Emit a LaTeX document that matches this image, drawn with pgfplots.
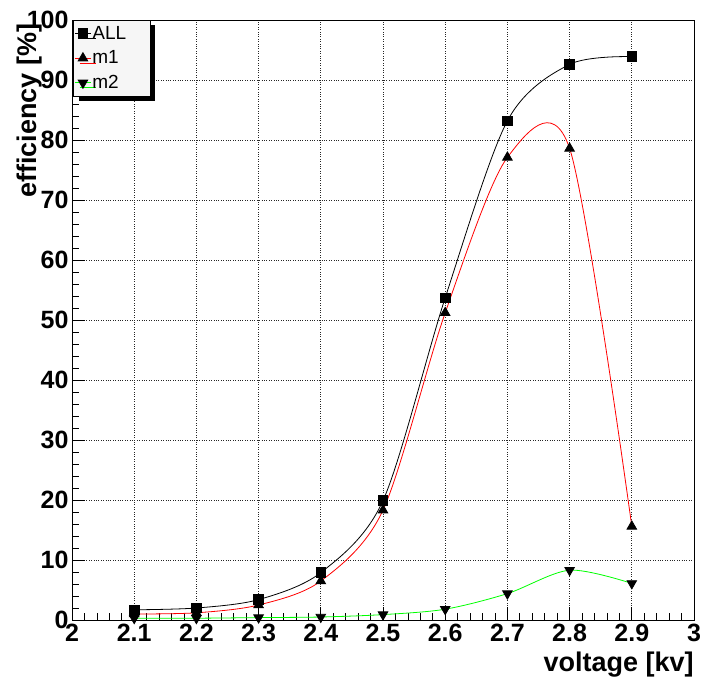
\documentclass[border=0pt]{standalone}
\usepackage{fontspec}
\setmainfont{Liberation Sans}
\usepackage{pgfplots}
\pgfplotsset{compat=1.18}
\usetikzlibrary{shadows}

\begin{document}
\begin{tikzpicture}
\useasboundingbox (-72pt,-66pt) rectangle (634pt,620pt);
\begin{axis}[
    at={(0pt,0pt)}, anchor=south west,
    scale only axis,
    width=622pt, height=600pt,
    xmin=2, xmax=3, ymin=0, ymax=100,
    xtick={2,2.1,2.2,2.3,2.4,2.5,2.6,2.7,2.8,2.9,3},
    ytick={0,10,20,30,40,50,60,70,80,90,100},
    minor x tick num=4,
    minor y tick num=4,
    tick pos=left,
    tick align=inside,
    major tick length=13pt,
    minor tick length=7pt,
    axis line style={line width=0.8pt},
    every tick/.style={black, line width=0.7pt},
    grid=major,
    grid style={dotted, black!85, line width=0.8pt},
    /pgf/number format/assume math mode=true,
    tick label style={font=\fontsize{25}{25}\selectfont\bfseries},
    xticklabel style={yshift=-1pt},
    yticklabel style={xshift=0pt},
    every axis x label/.style={at={(axis description cs:1.005,-0.048)}, anchor=north east},
    every axis y label/.style={at={(axis description cs:-0.095,1.0)}, anchor=north east, rotate=90},
    xlabel={\fontsize{27}{27}\selectfont\bfseries voltage [kv]},
    ylabel={\fontsize{27}{27}\selectfont\bfseries efficiency [\%]},
    legend style={
        at={(axis description cs:0.002,1)}, anchor=north west,
        fill=gray!7, draw=black, line width=0.6pt,
        drop shadow={fill=black, opacity=1, shadow xshift=5pt, shadow yshift=-5pt},
        font=\fontsize{19}{19}\selectfont,
        row sep=6pt, inner xsep=1pt, inner ysep=4pt,
        cells={anchor=west},
        text width=56pt,
        nodes={inner xsep=1pt},
    },
    legend image code/.code={\draw[mark repeat=2,mark phase=2,#1] plot coordinates {(0pt,0pt) (8pt,0pt) (16pt,0pt)};},
    every axis plot/.append style={line width=0.8pt},
]
\addplot[black, smooth, mark=square*, mark size=4.8pt, mark options={solid, fill=black}]
  coordinates {(2.1,1.7) (2.2,2.0) (2.3,3.4) (2.4,7.9) (2.5,19.9) (2.6,53.7) (2.7,83.2) (2.8,92.6) (2.9,93.9)};
\addlegendentry{ALL}
\addplot[red, smooth, mark=triangle*, mark size=5.5pt, mark options={black, fill=black}]
  coordinates {(2.1,1.0) (2.2,1.2) (2.3,2.5) (2.4,6.5) (2.5,18.3) (2.6,51.2) (2.7,77.1) (2.8,78.6) (2.9,15.6)};
\addlegendentry{m1}
\addplot[green, smooth, mark=triangle*, mark size=5.5pt, mark options={black, fill=black, rotate=180}]
  coordinates {(2.1,0.3) (2.2,0.3) (2.3,0.4) (2.4,0.5) (2.5,0.9) (2.6,1.8) (2.7,4.4) (2.8,8.3) (2.9,6.1)};
\addlegendentry{m2}
\end{axis}
\end{tikzpicture}
\end{document}
